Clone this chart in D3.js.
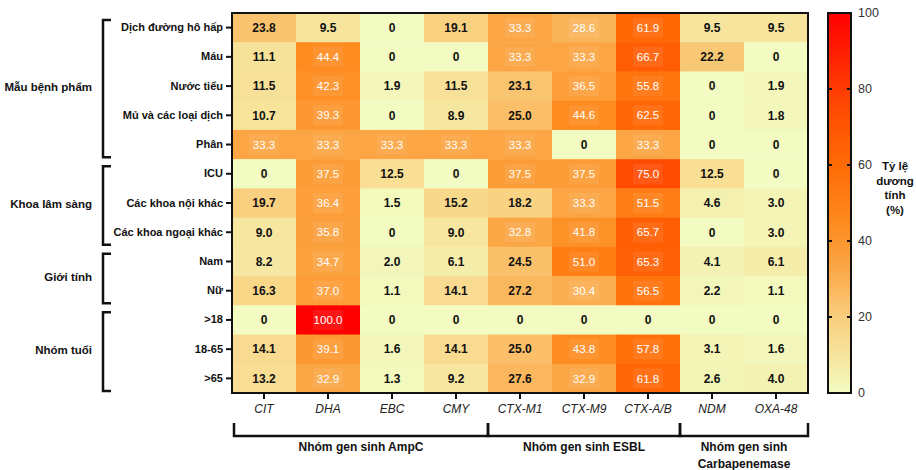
<!DOCTYPE html>
<html>
<head>
<meta charset="utf-8">
<script src="https://cdn.jsdelivr.net/npm/d3@7"></script>
<style>
  body { margin: 0; background: #fff; }
  text { font-family: "Liberation Sans", Arial, sans-serif; }
</style>
</head>
<body>
<div id="chart"></div>
<script>
// categories
const genes = ["CIT", "DHA", "EBC", "CMY", "CTX-M1", "CTX-M9", "CTX-A/B", "NDM", "OXA-48"];
const rowNames = ["Dịch đường hô hấp", "Máu", "Nước tiểu", "Mủ và các loại dịch", "Phân",
  "ICU", "Các khoa nội khác", "Các khoa ngoại khác", "Nam", "Nữ", ">18", "18-65", ">65"];
const rowGroups = [
  {name: "Mẫu bệnh phẩm", from: 0, to: 4},
  {name: "Khoa lâm sàng", from: 5, to: 7},
  {name: "Giới tính", from: 8, to: 9},
  {name: "Nhóm tuổi", from: 10, to: 12}
];
const geneGroups = [
  {name: ["Nhóm gen sinh AmpC"], from: 0, to: 3},
  {name: ["Nhóm gen sinh ESBL"], from: 4, to: 6},
  {name: ["Nhóm gen sinh", "Carbapenemase"], from: 7, to: 8}
];
// % positive, one array per row
const values = [
  [23.8, 9.5, 0, 19.1, 33.3, 28.6, 61.9, 9.5, 9.5],
  [11.1, 44.4, 0, 0, 33.3, 33.3, 66.7, 22.2, 0],
  [11.5, 42.3, 1.9, 11.5, 23.1, 36.5, 55.8, 0, 1.9],
  [10.7, 39.3, 0, 8.9, 25.0, 44.6, 62.5, 0, 1.8],
  [33.3, 33.3, 33.3, 33.3, 33.3, 0, 33.3, 0, 0],
  [0, 37.5, 12.5, 0, 37.5, 37.5, 75.0, 12.5, 0],
  [19.7, 36.4, 1.5, 15.2, 18.2, 33.3, 51.5, 4.6, 3.0],
  [9.0, 35.8, 0, 9.0, 32.8, 41.8, 65.7, 0, 3.0],
  [8.2, 34.7, 2.0, 6.1, 24.5, 51.0, 65.3, 4.1, 6.1],
  [16.3, 37.0, 1.1, 14.1, 27.2, 30.4, 56.5, 2.2, 1.1],
  [0, 100.0, 0, 0, 0, 0, 0, 0, 0],
  [14.1, 39.1, 1.6, 14.1, 25.0, 43.8, 57.8, 3.1, 1.6],
  [13.2, 32.9, 1.3, 9.2, 27.6, 32.9, 61.8, 2.6, 4.0]
];
const legendTicks = [0, 20, 40, 60, 80, 100];
const legendTitle = ["Tỷ lệ", "dương", "tính", "(%)"];

const W = 916, H = 470;
const svg = d3.select("#chart").append("svg").attr("width", W).attr("height", H);

const mLeft = 232, mRight = 808, mTop = 13, mBottom = 393;
const x = d3.scaleBand().domain(genes).range([mLeft, mRight]);
const y = d3.scaleBand().domain(rowNames).range([mTop, mBottom]);

const color = d3.scaleLinear()
  .domain([0, 10, 20, 33, 45, 60, 75, 100])
  .range(["#f2fbc1", "#f7e49c", "#f9cf7e", "#fba645", "#fd8a1e", "#ff6b06", "#ff4b02", "#ff0000"])
  .clamp(true);

const cells = [];
values.forEach((row, i) => row.forEach((v, j) => cells.push({r: rowNames[i], g: genes[j], v: v})));

const fmt = v => v === 0 ? "0" : v.toFixed(1);

svg.append("g").selectAll("rect")
  .data(cells).join("rect")
  .attr("x", d => x(d.g)).attr("y", d => y(d.r))
  .attr("width", x.bandwidth() + 0.5).attr("height", y.bandwidth() + 0.5)
  .attr("fill", d => color(d.v));

// slight light patch behind the white labels
svg.append("g").selectAll("rect")
  .data(cells.filter(d => d.v >= 28)).join("rect")
  .attr("x", d => x(d.g) + x.bandwidth() / 2 - 15)
  .attr("y", d => y(d.r) + y.bandwidth() / 2 - 10)
  .attr("width", 30).attr("height", 20)
  .attr("fill", "#fff").attr("opacity", 0.08);

svg.append("g").selectAll("text")
  .data(cells).join("text")
  .attr("x", d => x(d.g) + x.bandwidth() / 2)
  .attr("y", d => y(d.r) + y.bandwidth() / 2)
  .attr("dy", "0.36em")
  .attr("text-anchor", "middle")
  .attr("font-size", d => d.v >= 28 ? 11.5 : 12)
  .attr("font-weight", d => d.v >= 28 ? "normal" : "bold")
  .attr("fill", d => d.v >= 28 ? "#fff" : "#111")
  .text(d => fmt(d.v));

// frame
svg.append("rect")
  .attr("x", mLeft).attr("y", mTop).attr("width", mRight - mLeft).attr("height", mBottom - mTop)
  .attr("fill", "none").attr("stroke", "#111").attr("stroke-width", 2);

// axes
const yAxis = svg.append("g").attr("transform", `translate(${mLeft},0)`)
  .call(d3.axisLeft(y).tickSize(6).tickPadding(3));
yAxis.select(".domain").remove();
yAxis.selectAll("line").attr("stroke", "#111").attr("stroke-width", 2);
yAxis.selectAll("text").attr("font-size", 11).attr("font-weight", "bold").attr("fill", "#111")
  .style("font-family", "'Liberation Sans', Arial, sans-serif");

const xAxis = svg.append("g").attr("transform", `translate(0,${mBottom})`)
  .call(d3.axisBottom(x).tickSize(6).tickPadding(5));
xAxis.select(".domain").remove();
xAxis.selectAll("line").attr("stroke", "#111").attr("stroke-width", 2);
xAxis.selectAll("text").attr("font-size", 12).attr("font-style", "italic").attr("fill", "#222")
  .style("font-family", "'Liberation Sans', Arial, sans-serif");

// row group brackets
const bx = 103, bEnd = 111;
rowGroups.forEach(g => {
  const y0 = y(rowNames[g.from]) + 7, y1 = y(rowNames[g.to]) + y.bandwidth() - 2;
  svg.append("path")
    .attr("d", `M${bEnd},${y0}H${bx}V${y1}H${bEnd}`)
    .attr("fill", "none").attr("stroke", "#111").attr("stroke-width", 2.5);
  svg.append("text")
    .attr("x", 92).attr("y", (y0 + y1) / 2 - 2).attr("dy", "0.35em")
    .attr("text-anchor", "end").attr("font-size", 11.5).attr("font-weight", "bold").attr("fill", "#111")
    .text(g.name);
});

// gene group brackets
const by = 436, bTop = 423;
geneGroups.forEach((g, i) => {
  const x0 = x(genes[g.from]) + (i === 0 ? 2 : 0);
  const x1 = x(genes[g.to]) + x.bandwidth();
  svg.append("path")
    .attr("d", `M${x0},${bTop}V${by}H${x1}V${bTop}`)
    .attr("fill", "none").attr("stroke", "#111").attr("stroke-width", 2.5);
  const t = svg.append("text")
    .attr("x", (x0 + x1) / 2).attr("y", 451)
    .attr("text-anchor", "middle").attr("font-size", 12).attr("font-weight", "bold").attr("fill", "#111");
  g.name.forEach((s, k) => t.append("tspan").attr("x", (x0 + x1) / 2).attr("dy", k ? 17 : 0).text(s));
});

// color legend
const lx = 828, lw = 23;
const ly = d3.scaleLinear().domain([0, 100]).range([mBottom, mTop]);
const defs = svg.append("defs");
const grad = defs.append("linearGradient").attr("id", "lg")
  .attr("x1", 0).attr("y1", 1).attr("x2", 0).attr("y2", 0);
d3.range(0, 101, 5).forEach(v => grad.append("stop").attr("offset", v / 100).attr("stop-color", color(v)));
svg.append("rect").attr("x", lx).attr("y", mTop).attr("width", lw).attr("height", mBottom - mTop)
  .attr("fill", "url(#lg)").attr("stroke", "#111").attr("stroke-width", 2);
svg.append("g").selectAll("path")
  .data(legendTicks.filter(t => t > 0 && t < 100)).join("path")
  .attr("d", t => `M${lx},${ly(t)}h4M${lx + lw},${ly(t)}h-4`)
  .attr("stroke", "#111").attr("stroke-width", 2);
svg.append("g").selectAll("text")
  .data(legendTicks).join("text")
  .attr("x", lx + lw + 7).attr("y", t => ly(t)).attr("dy", "0.35em")
  .attr("font-size", 12.5).attr("fill", "#333")
  .text(t => t);
const lt = svg.append("text").attr("text-anchor", "middle").attr("font-size", 11.5)
  .attr("font-weight", "bold").attr("fill", "#111");
legendTitle.forEach((s, k) => lt.append("tspan").attr("x", 895).attr("y", 170 + k * 14.5).text(s));
</script>
</body>
</html>
